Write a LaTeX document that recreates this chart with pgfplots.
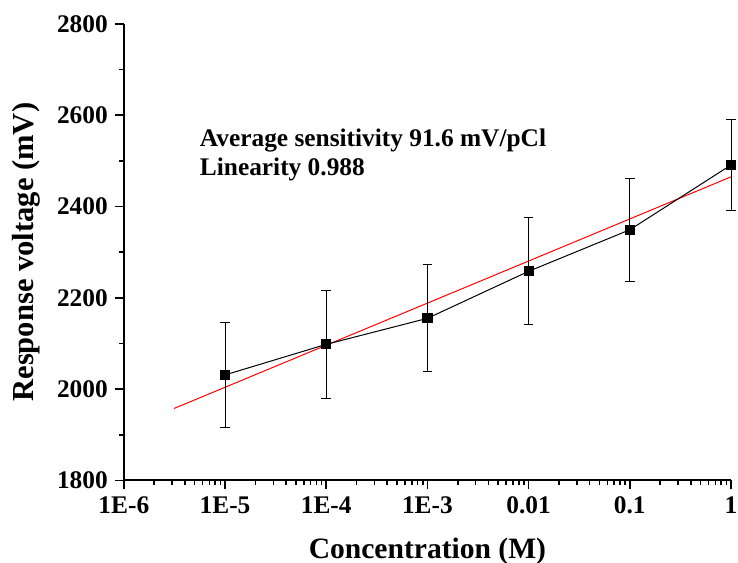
\documentclass[border=0pt]{standalone}
\usepackage{fontspec}
\setmainfont{Liberation Serif}
\usepackage{pgfplots}
\pgfplotsset{compat=1.18}
\begin{document}
\begin{tikzpicture}
\begin{axis}[
  scale only axis,
  width=304pt, height=228.5pt,
  xmode=log,
  xmin=1e-6, xmax=1,
  ymin=1800, ymax=2800,
  axis x line*=bottom, axis y line*=left,
  axis line style={-, line width=1pt},
  tick align=outside,
  xtick={1e-6,1e-5,1e-4,1e-3,1e-2,1e-1,1},
  xticklabels={1E-6,1E-5,1E-4,1E-3,0.01,0.1,1},
  ytick={1800,2000,2200,2400,2600,2800},
  yticklabels={1800,2000,2200,2400,2600,2800},
  minor y tick num=1,
  major tick length=4.5pt, minor tick length=2.5pt,
  every tick/.style={black, line width=0.8pt},
  ticklabel style={font=\fontsize{12.7}{14}\selectfont\bfseries},
  xticklabel style={inner xsep=0pt},
  /pgf/number format/assume math mode=true,
  xlabel={Concentration (M)},
  ylabel={Response voltage (mV)},
  xlabel style={font=\fontsize{14.8}{17}\selectfont\bfseries, yshift=-5.5pt},
  ylabel style={font=\fontsize{15.3}{17}\selectfont\bfseries, yshift=1.5pt},
  clip=false,
]
\addplot[red, line width=0.5pt] coordinates {(3.14e-6,1957.5) (1,2465)};
\addplot[black, line width=0.5pt, mark=square*, mark size=2.3pt,
  error bars/.cd, y dir=both, y explicit,
  error bar style={line width=0.5pt, black},
  error mark options={rotate=90, mark size=2.4pt, line width=0.5pt, black}]
  coordinates {
  (1e-5,2031) +- (0,115)
  (1e-4,2098) +- (0,119)
  (1e-3,2155) +- (0,117)
  (1e-2,2258) +- (0,117)
  (1e-1,2349) +- (0,113)
  (1,2491) +- (0,100)
  };
\node[anchor=north west, align=left, inner sep=0pt,
  font=\fontsize{12.7}{15}\selectfont\bfseries]
  at (axis cs:5.6e-6,2572) {Average sensitivity 91.6 mV/pCl\\Linearity 0.988};
\end{axis}
\pgfresetboundingbox
\path ([xshift=-62pt,yshift=-41pt]current axis.south west) rectangle ([xshift=3.5pt,yshift=12pt]current axis.north east);
\end{tikzpicture}
\end{document}
